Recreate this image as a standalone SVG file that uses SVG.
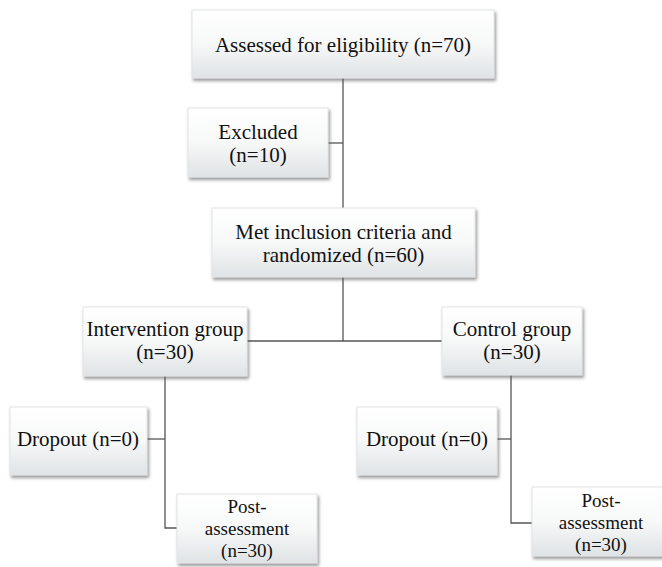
<svg xmlns="http://www.w3.org/2000/svg" width="662" height="567" viewBox="0 0 662 567">
<defs>
<linearGradient id="g" x1="0" y1="0" x2="0" y2="1">
<stop offset="0" stop-color="#ffffff"/>
<stop offset="0.5" stop-color="#f7f8f8"/>
<stop offset="1" stop-color="#dfe3e5"/>
</linearGradient>
<filter id="sh" x="-10%" y="-10%" width="125%" height="130%">
<feDropShadow dx="1.5" dy="2.5" stdDeviation="1.5" flood-color="#555" flood-opacity="0.6"/>
</filter>
</defs>
<style>
.box{fill:url(#g);stroke:#e2e4e6;stroke-width:1;filter:url(#sh)}
.t{font-size:21px;fill:#111;text-anchor:middle}
.s{font-size:19px}
.c{fill:none;stroke:#555;stroke-width:1.3}
</style>
<rect width="662" height="567" fill="#fff"/>
<g id="connectors">
<path class="c" d="M343 78V208"/>
<path class="c" d="M328 143H343"/>
<path class="c" d="M343 277V341"/>
<path class="c" d="M247 341H442"/>
<path class="c" d="M165 376V528H177"/>
<path class="c" d="M147 439H165"/>
<path class="c" d="M511 375V523H532"/>
<path class="c" d="M497 439H511"/>
</g>
<g font-family="Liberation Serif, Times New Roman, serif">
<g id="assessed">
<rect class="box" x="192" y="10" width="302" height="68"/>
<text class="t" x="343" y="52">Assessed for eligibility (n=70)</text>
</g>
<g id="excluded">
<rect class="box" x="188" y="108" width="140" height="69"/>
<text class="t" x="258" y="139">Excluded</text>
<text class="t" x="258" y="162">(n=10)</text>
</g>
<g id="randomized">
<rect class="box" x="212" y="208" width="263" height="69"/>
<text class="t" x="343.5" y="239">Met inclusion criteria and</text>
<text class="t" x="343.5" y="262">randomized (n=60)</text>
</g>
<g id="intervention">
<rect class="box" x="83" y="307" width="164" height="69"/>
<text class="t" x="165" y="336">Intervention group</text>
<text class="t" x="165" y="359">(n=30)</text>
</g>
<g id="control">
<rect class="box" x="442" y="307" width="140" height="68"/>
<text class="t" x="512" y="336">Control group</text>
<text class="t" x="512" y="359">(n=30)</text>
</g>
<g id="dropout-left">
<rect class="box" x="10" y="407" width="137" height="68"/>
<text class="t" x="78" y="446">Dropout (n=0)</text>
</g>
<g id="dropout-right">
<rect class="box" x="357" y="407" width="140" height="68"/>
<text class="t" x="427" y="446">Dropout (n=0)</text>
</g>
<g id="post-left">
<rect class="box" x="177" y="494" width="140" height="69"/>
<text class="t s" x="247" y="513">Post-</text>
<text class="t s" x="247" y="535">assessment</text>
<text class="t s" x="247" y="557">(n=30)</text>
</g>
<g id="post-right">
<rect class="box" x="532" y="487" width="138" height="69"/>
<text class="t s" x="601" y="507">Post-</text>
<text class="t s" x="601" y="529">assessment</text>
<text class="t s" x="601" y="551">(n=30)</text>
</g>
</g>
</svg>
